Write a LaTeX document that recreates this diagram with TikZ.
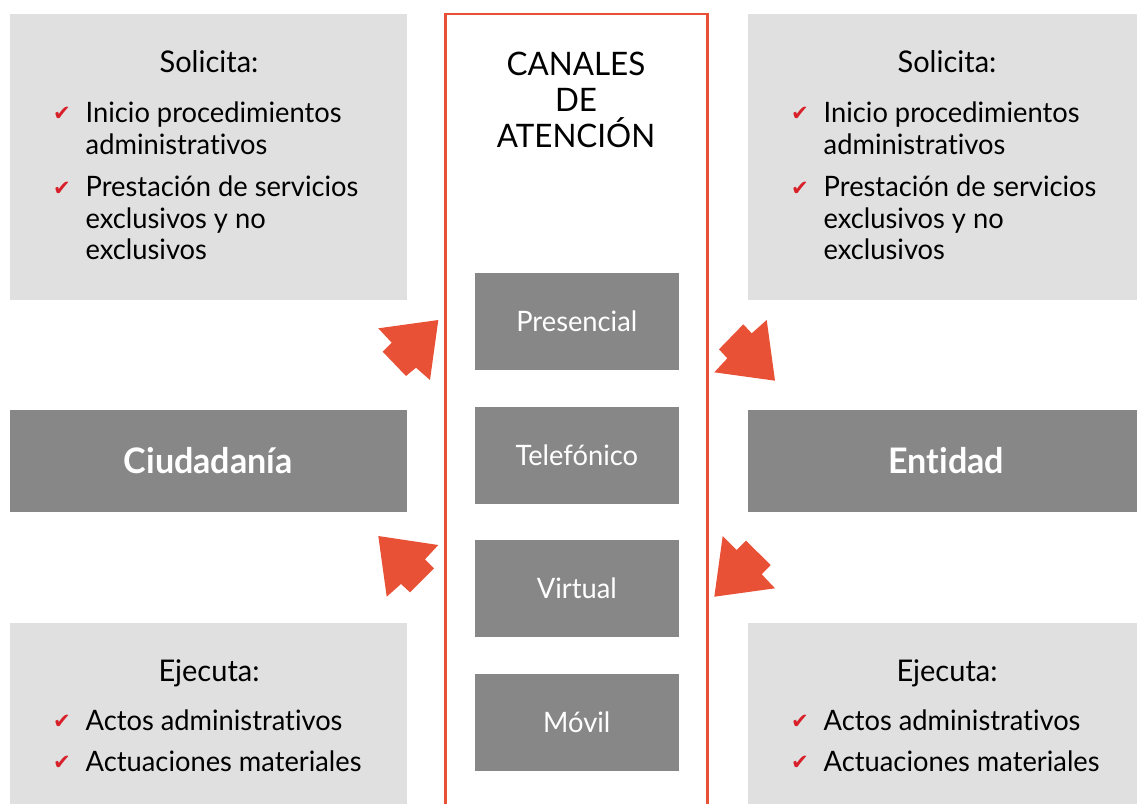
\documentclass[tikz,border=0pt]{standalone}
\usepackage{fontspec}
\setmainfont{Lato}[FakeStretch=0.97,Ligatures={NoCommon}]
\newfontfamily\symfont{DejaVu Sans}
\definecolor{accred}{HTML}{E95137}
\definecolor{chkred}{HTML}{D8202A}
\definecolor{lgray}{HTML}{E0E0E0}
\definecolor{dgray}{HTML}{878787}
\begin{document}
\begin{tikzpicture}[x=0.01cm,y=-0.01cm,
  lightbox/.style={fill=lgray,draw=none,inner sep=0,anchor=north west,minimum width=3.97cm},
  darkbox/.style={fill=dgray,draw=none,inner sep=0,anchor=north west,minimum width=3.97cm,minimum height=1.02cm,
    text=white,font=\fontsize{10pt}{11pt}\selectfont\bfseries,text height=0.25cm,text depth=0pt},
  chanbox/.style={fill=dgray,draw=none,inner sep=0,anchor=north west,minimum width=2.04cm,minimum height=0.97cm,
    text=white,font=\fontsize{8pt}{9pt}\selectfont,text height=0.2cm,text depth=0pt},
  txt/.style={inner sep=0,anchor=base west,font=\fontsize{8pt}{9pt}\selectfont,text=black},
  ttl/.style={inner sep=0,anchor=base,font=\fontsize{8.5pt}{9pt}\selectfont,text=black},
  cttl/.style={inner sep=0,anchor=base,font=\fontsize{9.2pt}{10pt}\selectfont,text=black},
  chk/.style={inner sep=0,anchor=center,font=\symfont\fontsize{6pt}{6pt}\selectfont,text=chkred},
  bigarrow/.style={fill=accred,draw=none}]
\useasboundingbox (0,0) rectangle (1137,803);
% boxes
\node[lightbox,minimum height=2.86cm] (tl) at (9,13) {};
\node[lightbox,minimum height=2.86cm] (tr) at (747,13) {};
\node[lightbox,minimum height=1.9cm] (bl) at (9,622) {};
\node[lightbox,minimum height=1.9cm] (br) at (747,622) {};
\node[darkbox] (ciu) at (9,409) {Ciudadanía};
\node[darkbox] (ent) at (747,409) {Entidad};
% channel frame
\draw[accred,line width=0.77pt] (445.3,815) -- (445.3,14) -- (707.3,14) -- (707.3,815);
\node[cttl] (c1) at (576,75) {CANALES};
\node[cttl] (c2) at (576,111) {DE};
\node[cttl] (c3) at (576,147) {ATENCIÓN};
\node[chanbox] (pre) at (474,272) {Presencial};
\node[chanbox] (tel) at (474,406) {Telefónico};
\node[chanbox] (vir) at (474,539) {Virtual};
\node[chanbox] (mov) at (474,673) {Móvil};
% top-left text
\node[ttl] (tlt) at (209,72) {Solicita:};
\node[chk] (tlk1) at (62,114) {✔};
\node[txt] (tl1a) at (85,122) {Inicio procedimientos};
\node[txt] (tl1b) at (85,154) {administrativos};
\node[chk] (tlk2) at (62,189) {✔};
\node[txt] (tl2a) at (85,196) {Prestación de servicios};
\node[txt] (tl2b) at (85,228) {exclusivos y no};
\node[txt] (tl2c) at (85,259) {exclusivos};
% top-right text
\node[ttl] (trt) at (947,72) {Solicita:};
\node[chk] (trk1) at (800,114) {✔};
\node[txt] (tr1a) at (823,122) {Inicio procedimientos};
\node[txt] (tr1b) at (823,154) {administrativos};
\node[chk] (trk2) at (800,189) {✔};
\node[txt] (tr2a) at (823,196) {Prestación de servicios};
\node[txt] (tr2b) at (823,228) {exclusivos y no};
\node[txt] (tr2c) at (823,259) {exclusivos};
% bottom-left text
\node[ttl] (blt) at (209,681) {Ejecuta:};
\node[chk] (blk1) at (62,722) {✔};
\node[txt] (bl1) at (85,730) {Actos administrativos};
\node[chk] (blk2) at (62,763) {✔};
\node[txt] (bl2) at (85,771) {Actuaciones materiales};
% bottom-right text
\node[ttl] (brt) at (947,681) {Ejecuta:};
\node[chk] (brk1) at (800,722) {✔};
\node[txt] (br1) at (823,730) {Actos administrativos};
\node[chk] (brk2) at (800,763) {✔};
\node[txt] (br2) at (823,771) {Actuaciones materiales};
% block arrows
\fill[bigarrow] (438.3,320) -- (378.3,328.3) -- (391.7,342.7) -- (382.7,351.7) -- (406,376) -- (416,367.7) -- (430,380) -- cycle;
\fill[bigarrow] (775,380.7) -- (766.7,320) -- (751.7,333.3) -- (743.3,324.3) -- (719,349.3) -- (727.3,358.3) -- (714.3,372.3) -- cycle;
\fill[bigarrow] (378.3,536) -- (438.3,545) -- (425,559.3) -- (434,568.3) -- (410,592.3) -- (401,584) -- (386.7,596.7) -- cycle;
\fill[bigarrow] (714.3,596.7) -- (775,588.3) -- (761.7,574.3) -- (770.7,565) -- (746,540.7) -- (736.7,550) -- (722.7,536) -- cycle;
\end{tikzpicture}
\end{document}
